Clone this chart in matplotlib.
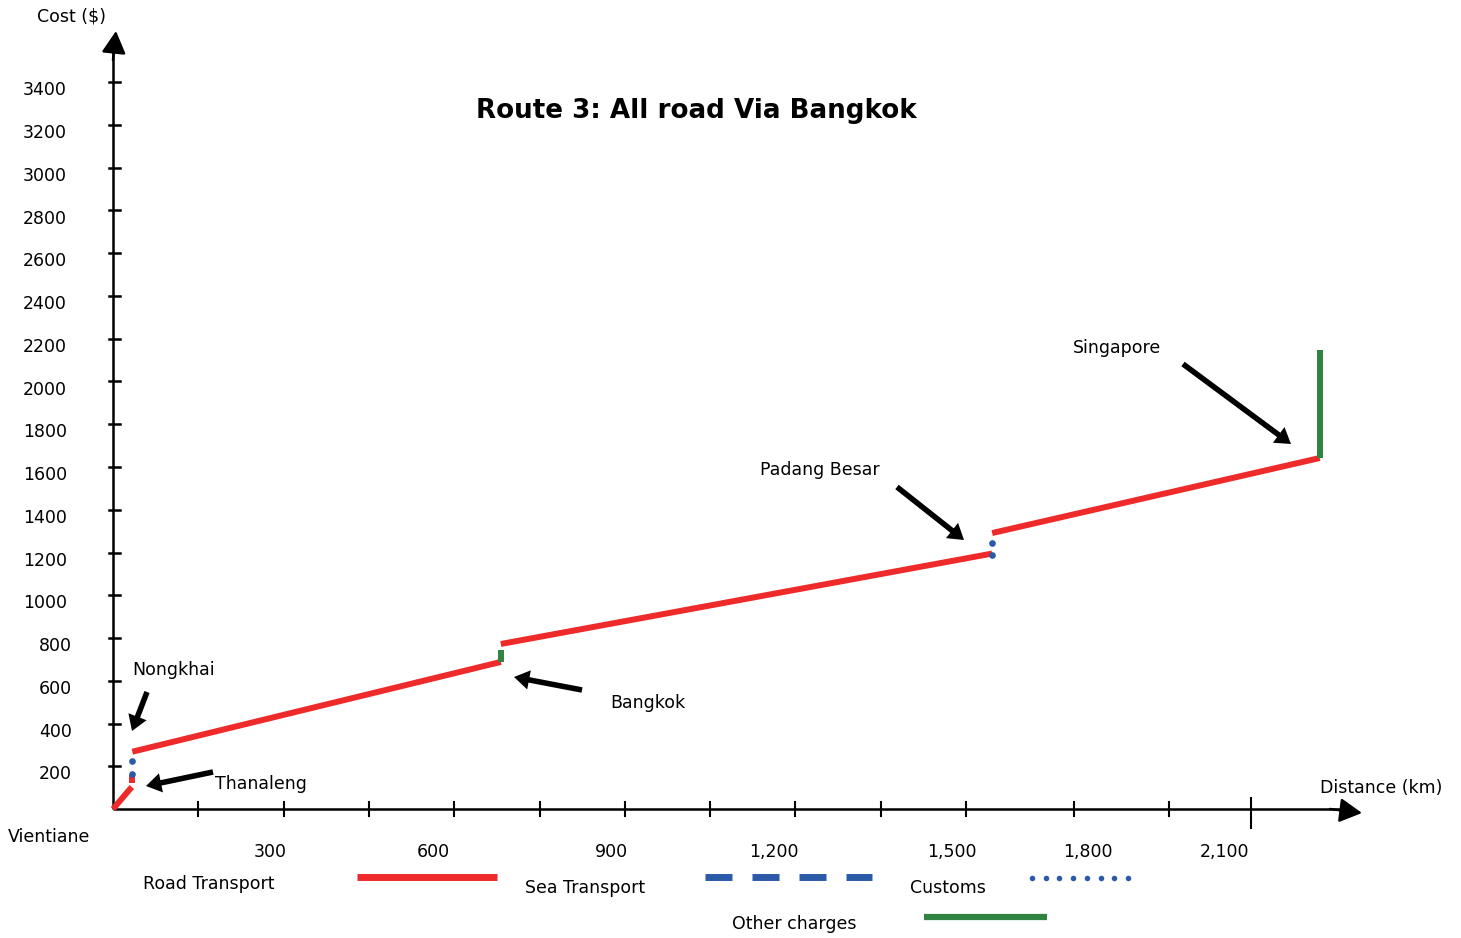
import numpy as np
import matplotlib
matplotlib.use("Agg")
import matplotlib.pyplot as plt
import matplotlib.transforms as mtransforms

# ---- data (distance in km, cost in $) ----
stops = ["Vientiane", "Thanaleng", "Nongkhai", "Bangkok", "Padang Besar", "Singapore"]

# road transport legs
road_km_start = [0, 33, 34, 682, 1546]
road_km_end = [33, 33, 682, 1546, 2122]
road_cost_start = [0, 122, 268, 772, 1291]
road_cost_end = [103, 159, 688, 1195, 1642]

# customs (border crossings)
customs_km = [33, 1546]
customs_cost_start = [164, 1190]
customs_cost_end = [225, 1245]

# other charges
other_km = [682, 2122]
other_cost_start = [688, 1642]
other_cost_end = [744, 2147]

y_ticks = list(range(200, 3600, 200))
y_tick_labels = [str(v) for v in y_ticks]
x_ticks = [150, 300, 450, 600, 750, 900, 1050, 1200, 1350, 1500, 1690, 1857]
x_major_tick = 2001
x_tick_labels = ["300", "600", "900", "1,200", "1,500", "1,800", "2,100"]
x_tick_label_km = [276, 563, 876, 1162, 1475, 1715, 1954]

RED = "#ee2a2a"
BLUE = "#2b5aa8"
GREEN = "#2f8442"

W, H = 1461, 938
ox, oy = 113, 809                # origin in pixels
kpp = 150 / 85.3                 # km per pixel
upp = 200 / 42.75                # $ per pixel

fig = plt.figure(figsize=(W / 100, H / 100), dpi=100)
ax = fig.add_axes([0, 0, 1, 1])
ax.set_xlim(-ox * kpp, (W - ox) * kpp)
ax.set_ylim(-(H - oy) * upp, oy * upp)
ax.axis("off")

# pixel coordinates from top-left (for layout items)
px = mtransforms.Affine2D().scale(1 / W, -1 / H).translate(0, 1) + fig.transFigure

FS = 12.5

# axes with arrows
ax.plot([0, 0], [0, 765 * upp], color="black", lw=1.8, solid_capstyle="butt")
ax.plot([0, 1230 * kpp], [0, 0], color="black", lw=1.8, solid_capstyle="butt")
ax.annotate("", xy=(116, 31), xytext=(113, 60), xycoords=px, textcoords=px,
            arrowprops=dict(arrowstyle="-|>,head_length=0.68,head_width=0.37",
                            color="black", lw=1.8, mutation_scale=20, shrinkA=0, shrinkB=0))
ax.annotate("", xy=(1362, 813), xytext=(1330, 809), xycoords=px, textcoords=px,
            arrowprops=dict(arrowstyle="-|>,head_length=0.68,head_width=0.37",
                            color="black", lw=1.8, mutation_scale=20, shrinkA=0, shrinkB=0))

# y ticks
for v, lab in zip(y_ticks, y_tick_labels):
    ax.plot([-4 * kpp, 7 * kpp], [v, v], color="black", lw=1.8)
    right = 72 if v < 1000 else 67
    ax.text((right - ox) * kpp, v - 8 * upp, lab, ha="right", va="center", fontsize=FS)

# x ticks
for x in x_ticks:
    ax.plot([x, x], [-7 * upp, 7 * upp], color="black", lw=1.5)
ax.plot([x_major_tick, x_major_tick], [11 * upp, -19 * upp], color="black", lw=1.5)
for x, lab in zip(x_tick_label_km, x_tick_labels):
    ax.text(x, -43 * upp, lab, ha="center", va="center", fontsize=FS)

# series
for xs, xe, ys, ye in zip(road_km_start, road_km_end, road_cost_start, road_cost_end):
    ax.plot([xs, xe], [ys, ye], color=RED, lw=4.3, solid_capstyle="butt")
for x, ys, ye in zip(other_km, other_cost_start, other_cost_end):
    ax.plot([x, x], [ys, ye], color=GREEN, lw=4.3, solid_capstyle="butt")
for x, ys, ye in zip(customs_km, customs_cost_start, customs_cost_end):
    ax.plot([x, x], [ys, ye], "o", color=BLUE, ms=4.8, mec="none")

# axis titles and text
ax.text(37, 16, "Cost ($)", transform=px, ha="left", va="center", fontsize=FS)
ax.text(1320, 788, "Distance (km)", transform=px, ha="left", va="center", fontsize=FS)
ax.text(8, 837, stops[0], transform=px, ha="left", va="center", fontsize=FS)
ax.text(696, 111, "Route 3: All road Via Bangkok", transform=px, ha="center",
        va="center", fontsize=18.8, fontweight="bold")

# place annotations
labels = [(stops[2], 132, 670, (147, 692), (132, 731)),
          (stops[1], 215, 784, (213, 772), (146, 786)),
          (stops[3], 610, 703, (582, 690), (514, 677)),
          (stops[4], 760, 470, (897, 487), (964, 540)),
          (stops[5], 1073, 348, (1183, 364), (1291, 444))]
for name, tx, ty, tail, tip in labels:
    ax.text(tx, ty, name, transform=px, ha="left", va="center", fontsize=FS)
    ax.annotate("", xy=tip, xytext=tail, xycoords=px, textcoords=px,
                arrowprops=dict(arrowstyle="simple,head_length=1.1,head_width=1.4,tail_width=0.4",
                                fc="black", ec="none", mutation_scale=10, shrinkA=0, shrinkB=0))

# legend drawn by hand
ax.text(143, 884, "Road Transport", transform=px, ha="left", va="center", fontsize=FS)
ax.plot([357, 497], [877, 877], transform=px, color=RED, lw=5, solid_capstyle="butt")
ax.text(525, 888, "Sea Transport", transform=px, ha="left", va="center", fontsize=FS)
ax.plot([705, 872], [877, 877], transform=px, color=BLUE, lw=5,
        dashes=(27 * 0.72 / 5, 20 * 0.72 / 5), solid_capstyle="butt", dash_capstyle="butt")
ax.text(910, 888, "Customs", transform=px, ha="left", va="center", fontsize=FS)
ax.plot(np.linspace(1032, 1128, 8), [878] * 8, "o", transform=px, color=BLUE, ms=4, mec="none")
ax.text(732, 924, "Other charges", transform=px, ha="left", va="center", fontsize=FS)
ax.plot([924, 1047], [917, 917], transform=px, color=GREEN, lw=4.5, solid_capstyle="butt")

fig.savefig("out.png", dpi=100)
